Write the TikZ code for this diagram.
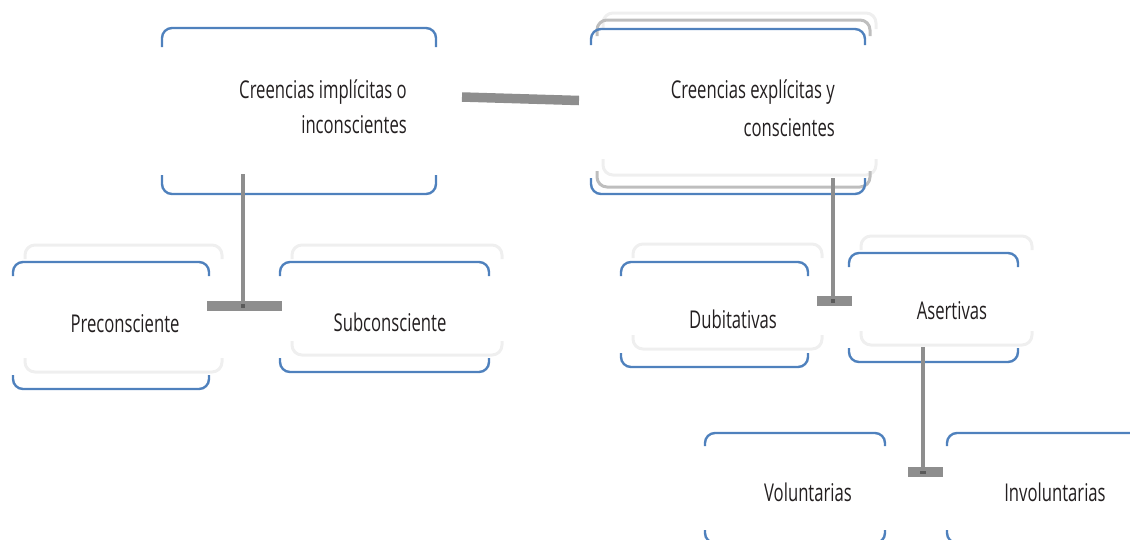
\documentclass[tikz,border=0pt]{standalone}
\usepackage{fontspec}
\setmainfont[FakeStretch=0.68]{Open Sans}
\usetikzlibrary{calc}
\definecolor{bblue}{HTML}{4F81BD}
\definecolor{lgray}{HTML}{EFEFEF}
\definecolor{mgray}{HTML}{BEBEBE}
\definecolor{cgray}{HTML}{8E8E8E}
\definecolor{dgray}{HTML}{5A5A5A}
\definecolor{txt}{HTML}{231F20}
\newcommand\bracketbox[3]{%
  \draw[#1] ($(#2.north west)+(0,#3)$) -- (#2.north west) -- (#2.north east) -- ($(#2.north east)+(0,#3)$);
  \draw[#1] ($(#2.south west)-(0,#3)$) -- (#2.south west) -- (#2.south east) -- ($(#2.south east)-(0,#3)$);}
\tikzset{
  frame/.style={rectangle, inner sep=0pt, outer sep=0pt, draw=none},
  blueline/.style={draw=bblue, line width=2.4pt, rounded corners=10pt},
  lightline/.style={draw=lgray, line width=3pt, rounded corners=10pt},
  midline/.style={draw=mgray, line width=3pt, rounded corners=10pt},
  label/.style={inner sep=0pt, text=txt, font=\fontsize{24.5}{35}\selectfont},
  stem/.style={draw=cgray, line width=4pt},
  bar/.style={draw=cgray, line width=9.5pt},
  knot/.style={fill=dgray, draw=none, minimum size=4pt, inner sep=0pt},
}
\begin{document}
\begin{tikzpicture}[x=1pt,y=-1pt]
\useasboundingbox (0,0) rectangle (1130,539);
\clip (0,0) rectangle (1130,539);
% box frames
\node[frame, minimum width=274pt, minimum height=166pt] (b1) at (299,111) {};
\node[frame, minimum width=273pt, minimum height=162pt] (b2l) at (739.5,94) {};
\node[frame, minimum width=273pt, minimum height=167pt] (b2m) at (733.5,103.5) {};
\node[frame, minimum width=274pt, minimum height=165pt] (b2) at (728,111.5) {};
\node[frame, minimum width=197pt, minimum height=127pt] (pres) at (123.5,308.5) {};
\node[frame, minimum width=196pt, minimum height=127pt] (pre) at (111,325.5) {};
\node[frame, minimum width=210pt, minimum height=110pt] (subs) at (397,300) {};
\node[frame, minimum width=209pt, minimum height=110pt] (sub) at (384.5,317) {};
\node[frame, minimum width=189pt, minimum height=105pt] (dubs) at (727.5,296.5) {};
\node[frame, minimum width=187pt, minimum height=105pt] (dub) at (714.5,314.5) {};
\node[frame, minimum width=171pt, minimum height=109pt] (ases) at (946.5,290.5) {};
\node[frame, minimum width=169pt, minimum height=109pt] (ase) at (933.5,307.5) {};
\node[frame, minimum width=180pt, minimum height=110pt] (vol) at (795,488) {};
\node[frame, minimum width=203pt, minimum height=110pt] (inv) at (1048.5,488) {};
% shadows
\bracketbox{lightline}{b2l}{16}
\bracketbox{midline}{b2m}{16}
\bracketbox{lightline}{pres}{14}
\bracketbox{lightline}{subs}{14}
\bracketbox{lightline}{dubs}{14}
\bracketbox{lightline}{ases}{14}
% blue brackets
\bracketbox{blueline}{b1}{19}
\bracketbox{blueline}{b2}{16}
\bracketbox{blueline}{pre}{14}
\bracketbox{blueline}{sub}{14}
\bracketbox{blueline}{dub}{14}
\bracketbox{blueline}{ase}{14}
\bracketbox{blueline}{vol}{13}
\bracketbox{blueline}{inv}{13}
% connectors
\coordinate (c12a) at (462,97);
\coordinate (c12b) at (579,100.5);
\draw[draw=cgray, line width=9.5pt] (c12a) -- (c12b);
\coordinate (s1a) at (243,174);
\coordinate (s1b) at (243,306);
\coordinate (t1a) at (207,306);
\coordinate (t1b) at (282,306);
\draw[stem] (s1a) -- (s1b);
\draw[bar] (t1a) -- (t1b);
\node[knot] (k1) at (s1b) {};
\coordinate (s2a) at (833,178);
\coordinate (s2b) at (833,301);
\coordinate (t2a) at (817,301);
\coordinate (t2b) at (852,301);
\draw[stem] (s2a) -- (s2b);
\draw[bar] (t2a) -- (t2b);
\node[knot] (k2) at (s2b) {};
\coordinate (s3a) at (923,347);
\coordinate (s3b) at (923,472);
\coordinate (t3a) at (908,472);
\coordinate (t3b) at (943,472);
\draw[stem] (s3a) -- (s3b);
\draw[bar] (t3a) -- (t3b);
\node[knot, minimum width=6pt, minimum height=3pt] (k3) at (s3b) {};
% texts
\node[label, align=right, anchor=east] (l1) at (407,107) {Creencias implícitas o\\inconscientes};
\node[label, align=right, anchor=east] (l2) at (835,108) {Creencias explícitas y\\[3pt]conscientes};
\node[label] (l3) at (125,323.5) {Preconsciente};
\node[label] (l4) at (390,322) {Subconsciente};
\node[label] (l5) at (733,319) {Dubitativas};
\node[label] (l6) at (952,311) {Asertivas};
\node[label] (l7) at (808,492) {Voluntarias};
\node[label] (l8) at (1055,492) {Involuntarias};
\end{tikzpicture}
\end{document}
